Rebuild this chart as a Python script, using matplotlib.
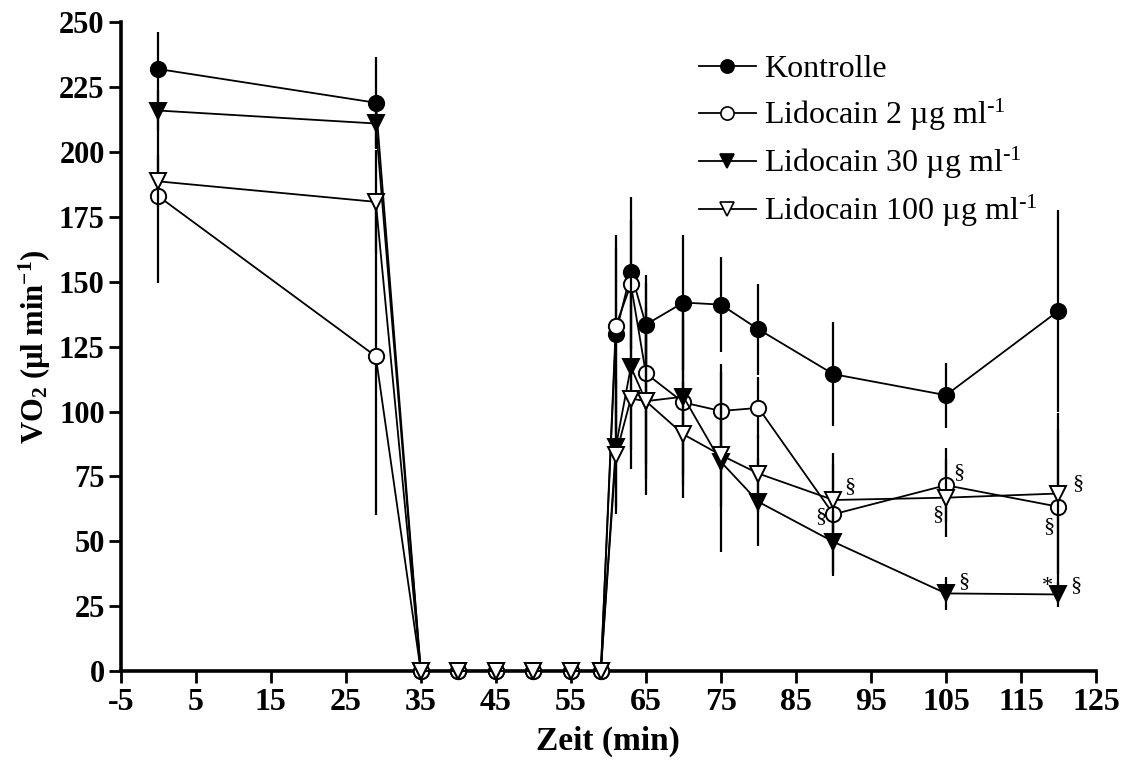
import matplotlib
matplotlib.use("Agg")
import matplotlib.pyplot as plt
from matplotlib.lines import Line2D

plt.rcParams['font.family'] = ['Liberation Serif', 'DejaVu Serif']
plt.rcParams['mathtext.fontset'] = 'custom'
plt.rcParams['mathtext.rm'] = 'Liberation Serif'
plt.rcParams['mathtext.it'] = 'Liberation Serif:italic'
plt.rcParams['mathtext.bf'] = 'Liberation Serif:bold'
plt.rcParams['axes.unicode_minus'] = False

# ---------------- data ----------------
time_min = [0, 29, 35, 40, 45, 50, 55, 59, 61, 63, 65, 70, 75, 80, 90, 105, 120]

kontrolle = [232, 219, 0, 0, 0, 0, 0, 0, 130, 153.6, 133.5, 142, 141.2, 131.7, 114.4, 106.3, 138.8]
kontrolle_err = [14.4, 17.5, 0, 0, 0, 0, 0, 0, 38, 29, 19, 26, 18.4, 17.6, 20, 12.5, 39]

lido2 = [183, 121.3, 0, 0, 0, 0, 0, 0, 133, 149, 114.7, 103.5, 100.2, 101.4, 60.4, 71.6, 63.3]
lido2_err = [33.4, 61, 0, 0, 0, 0, 0, 0, 30, 25, 35, 37, 18, 12, 23.6, 14.3, 30]

lido30 = [216, 211, 0, 0, 0, 0, 0, 0, 86.4, 117.2, 104, 105.7, 80.6, 65.2, 49.8, 29.9, 29.5]
lido30_err = [8, 10, 0, 0, 0, 0, 0, 0, 26, 39.5, 30, 30, 34.6, 17, 12, 6.4, 4.7]

lido100 = [188.7, 180.8, 0, 0, 0, 0, 0, 0, 83.2, 105, 104, 91.2, 83.2, 76.1, 65.9, 66.8, 68.4]
lido100_err = [10, 20, 0, 0, 0, 0, 0, 0, 20, 20, 36, 20, 20, 15, 14, 15, 31]

series_labels = ["Kontrolle",
                 "Lidocain 2 µg ml$^{\\text{-1}}$",
                 "Lidocain 30 µg ml$^{\\text{-1}}$",
                 "Lidocain 100 µg ml$^{\\text{-1}}$"]

x_ticks = [-5, 5, 15, 25, 35, 45, 55, 65, 75, 85, 95, 105, 115, 125]
y_ticks = [0, 25, 50, 75, 100, 125, 150, 175, 200, 225, 250]

# significance marks: (series index, time, symbol)
marks = [(3, 90, "§"), (1, 90, "§"),
         (1, 105, "§"), (3, 105, "§"), (2, 105, "§"),
         (3, 120, "§"), (1, 120, "§"), (2, 120, "*"), (2, 120, "§")]

# ---------------- drawing ----------------
W, H = 1124, 762
fig = plt.figure(figsize=(W / 100, H / 100), dpi=100)
ax = fig.add_axes([120.7 / W, 1 - 671 / H, (1096 - 120.7) / W, (671 - 22.3) / H])

all_vals = [kontrolle, lido2, lido30, lido100]
all_errs = [kontrolle_err, lido2_err, lido30_err, lido100_err]
styles = [dict(marker='o', mfc='black', ms=11),
          dict(marker='o', mfc='white', ms=11),
          dict(marker='v', mfc='black', ms=12),
          dict(marker='v', mfc='white', ms=12)]

handles = []
for i, (vals, errs, st) in enumerate(zip(all_vals, all_errs, styles)):
    ax.errorbar(time_min, vals, yerr=errs, fmt='none', ecolor='black',
                elinewidth=1.6, capsize=0, zorder=3 + 2 * i, clip_on=False)
    ax.plot(time_min, vals, color='black', lw=1.3, marker=st['marker'],
            mfc=st['mfc'], mec='black', mew=1.4, ms=st['ms'],
            zorder=4 + 2 * i, clip_on=False)
    handles.append(Line2D([], [], color='black', lw=1.3, marker=st['marker'],
                          mfc=st['mfc'], mec='black', mew=1.2,
                          ms=st['ms'] - 1.5))

offsets = {(3, 90, "§"): (16, 13), (1, 90, "§"): (-13, -2),
           (1, 105, "§"): (13, 13), (3, 105, "§"): (-8, -17),
           (2, 105, "§"): (18, 12), (3, 120, "§"): (19, 10),
           (1, 120, "§"): (-10, -20), (2, 120, "*"): (-11, 8),
           (2, 120, "§"): (17, 9)}
for si, t, sym in marks:
    v = all_vals[si][time_min.index(t)]
    dx, dy = offsets[(si, t, sym)]
    ax.annotate(sym, (t, v), xytext=(dx, dy), textcoords='offset pixels',
                ha='center', va='center', fontsize=16, zorder=20)

ax.set_xlim(-5, 125)
ax.set_ylim(0, 250)
ax.set_xticks(x_ticks)
ax.set_yticks(y_ticks)
ax.spines['top'].set_visible(False)
ax.spines['right'].set_visible(False)
for s in ('left', 'bottom'):
    ax.spines[s].set_linewidth(2.6)
ax.tick_params(axis='both', direction='out', length=8.5, width=2, pad=3)
ax.tick_params(axis='x', labelsize=23, pad=4)
ax.tick_params(axis='y', labelsize=22)
for lab in ax.get_xticklabels() + ax.get_yticklabels():
    lab.set_fontweight('bold')

ax.set_xlabel("Zeit (min)", fontsize=24, fontweight='bold', labelpad=6)
ax.set_ylabel("VO$_\\mathbf{2}$ (µl min$^\\mathbf{-1}$)", fontsize=22,
              fontweight='bold', labelpad=4)

leg = ax.legend(handles, series_labels, loc='upper left',
                bbox_to_anchor=(699 / W, 1 - 55 / H),
                bbox_transform=fig.transFigure, frameon=False, fontsize=23,
                handlelength=1.78, handletextpad=0.25, labelspacing=0.38,
                borderpad=0, borderaxespad=0)

fig.savefig("out.png", dpi=100, facecolor='white')
